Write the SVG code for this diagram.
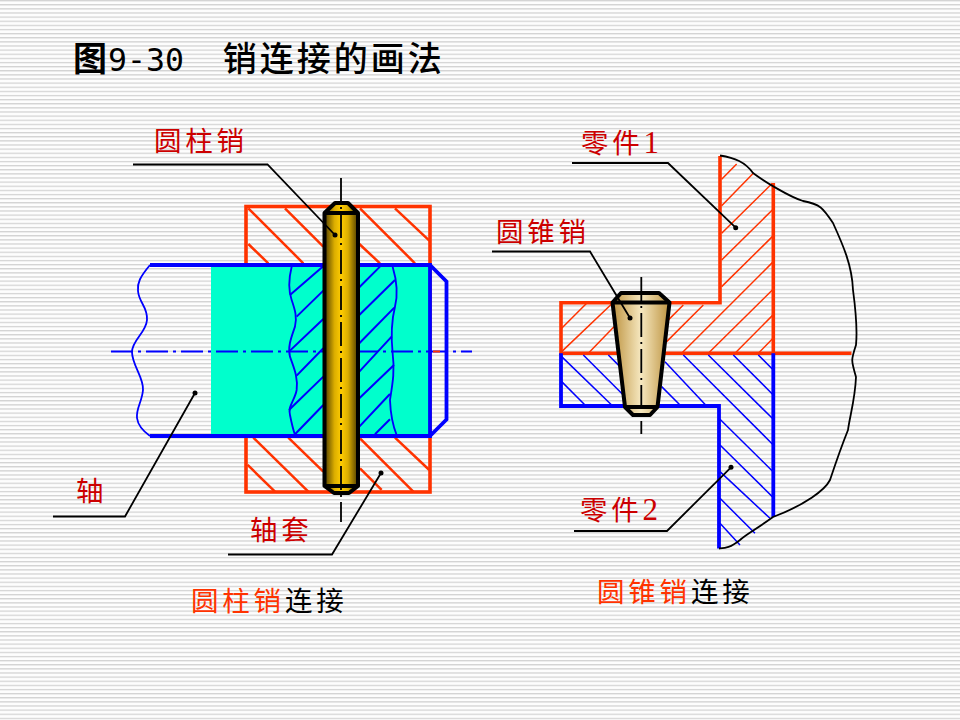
<svg xmlns="http://www.w3.org/2000/svg" width="960" height="720" viewBox="0 0 960 720">
<style>
.cjk{font-family:"Noto Sans CJK SC","Noto Sans",sans-serif}
.title{font-size:34px;font-weight:500;fill:#000;letter-spacing:3px}
.lbl{font-size:27.500px;fill:#cc0000;letter-spacing:3.800px}
.cap{font-size:27.500px;letter-spacing:3.800px}
.leader{fill:none;stroke:#000;stroke-width:1.800}
.red{fill:none;stroke:#ff3300;stroke-width:3.600}
.blue{fill:none;stroke:#0000ff;stroke-width:3.800}
.hr{fill:none;stroke:#ff3300}
.hb{fill:none;stroke:#0000ff}
.pin{stroke:#000;stroke-width:4;stroke-linejoin:round}
.cl{fill:none;stroke:#000;stroke-width:1.800;stroke-dasharray:24 5 2 5}
</style>
<defs>
<pattern id="bg" width="4.125" height="4.125" patternUnits="userSpaceOnUse">
<rect width="4.125" height="4.125" fill="#fdfdfd"/>
<rect y="0" width="4.125" height="1.250" fill="#d2d2d2"/>
</pattern>
<linearGradient id="gold" x1="0" x2="1" y1="0" y2="0">
<stop offset="0" stop-color="#4e3c00"/><stop offset=".3" stop-color="#dcae00"/><stop offset=".5" stop-color="#ffcc00"/><stop offset=".7" stop-color="#dcae00"/><stop offset="1" stop-color="#4e3c00"/>
</linearGradient>
<linearGradient id="tan" x1="0" x2="1" y1="0" y2="0">
<stop offset="0" stop-color="#bd9340"/><stop offset=".5" stop-color="#f6e8c0"/><stop offset="1" stop-color="#bd9340"/>
</linearGradient>
</defs>
<rect width="960" height="720" fill="url(#bg)"/>
<text id="title" class="cjk title" x="73" y="71"><tspan font-weight="700" letter-spacing="0">图</tspan><tspan font-family="DejaVu Sans Mono" font-size="31.500" font-weight="400" letter-spacing="0" dx="1">9-30</tspan><tspan dx="39">销连接的画法</tspan></text>

<g id="cylinder-connection">
<g id="sleeve">
<rect class="red" x="246" y="206.500" width="184" height="285.500"/>
<path class="hr" stroke-width="7.500" transform="translate(100 170) scale(.3333)" d="M445 115L610 280M555 115L670 230M780 115L945 280M885 115L988 212M445 222L505 280M778 222L840 280M460 803L625 965M565 803L670 905M780 805L940 965M885 803L988 900M443 885L525 965M780 895L845 960"/>
</g>
<g id="shaft">
<rect x="211" y="265" width="218" height="171" fill="#00ffcc"/>
<path fill="none" stroke="#0000ff" stroke-width="1.800" d="M150 265C140 277 137 283 138 291C139 303 148 307 147 320C146 333 132 340 132 352C132 365 144 378 143 390C142 402 136 408 137 418C138 426 143 431 150 436"/>
<path class="blue" d="M150 265H430V436H150M430 265L446.500 281.500V419.500L430 436"/>
<g transform="translate(100 170) scale(.3333)">
<path class="hb" stroke-width="5.500" d="M575 290C565 330 565 360 575 390C585 420 592 440 585 470C575 500 562 530 570 560C580 590 595 620 590 660C585 690 562 710 570 735C575 760 580 780 585 795M878 290C890 330 895 370 885 410C875 450 873 500 878 550C885 600 878 640 870 690C872 740 880 770 890 795"/>
<path class="hb" stroke-width="6" d="M570 375L668 290M590 440L670 362M570 542L670 447M590 617L670 535M567 720L670 620M585 793L670 705M778 352L840 290M778 435L885 330M778 520L883 413M778 605L875 500M778 685L882 585M778 770L870 672M825 793L870 748"/>
</g>
</g>
<path fill="none" stroke="#0000ff" stroke-width="2" stroke-dasharray="22 5 3 5" d="M111 351.500H472"/>
<path fill="none" stroke="#ff3300" stroke-width="2" d="M433 351.500H440"/>
<g id="cylinder-pin">
<path class="pin" fill="url(#gold)" d="M335 203H348L358 213V486L349 493H334L324.500 486V213Z"/>
<path class="pin" fill="none" d="M324.500 213H358M324.500 486H358"/>
</g>
<path class="cl" d="M341 178V522"/>
</g>

<g id="taper-connection">
<g id="part1">
<g transform="translate(540 140) scale(.3333)">
<path class="hr" stroke-width="4.500" d="M545 118L590 72M545 197L640 100M545 280L697 130M545 360L697 210M545 440L697 290M425 640L697 368M505 640L697 450M585 640L697 527M655 640L697 597M380 545L430 495M380 605L490 495M65 565L140 490M65 635L215 492M145 640L222 560"/>
</g>
<path class="red" d="M720 156V302.700H561V353.300H851.500M773.300 183V353.300"/>
</g>
<g id="part2">
<g transform="translate(540 140) scale(.3333)">
<path class="hb" stroke-width="4.500" d="M655 645L697 687M580 645L697 762M505 645L697 835M430 645L697 912M375 665L497 795M540 838L697 993M365 740L420 795M540 915L697 1070M540 995L690 1135M540 1075L645 1180M540 1150L600 1215M205 645L240 680M130 645L250 765M65 650L215 795M65 725L135 795"/>
</g>
<path class="blue" d="M561 353.300V406H719V548.500M773.300 353.300V517"/>
</g>
<path id="break-line" class="leader" d="M720 155.500C735 158 745 162 753 173C765 182 790 197 803 201C820 204 823 208 833 223C843 245 852 265 853 290C857 320 857 335 856 345C851 360 851 360 856 377C855 400 850 415 848 430C840 450 835 465 830 480C825 490 805 505 773 517C755 530 745 535 740 540C730 548 725 548 719 548.500"/>
<g id="taper-pin">
<path class="pin" fill="url(#tan)" d="M621 293H659L669.500 302.500L657.500 407L650 415H633L625 407L612.500 302.500Z"/>
<path class="pin" fill="none" d="M612.500 302.500H669.500M625 407H657.500"/>
</g>
<path class="cl" d="M641.300 277V434"/>
</g>

<g id="connectors">
<path class="leader" d="M133 164.500H267.500L335 235"/>
<path class="leader" d="M53 516.500H125L195 393"/>
<path class="leader" d="M228 554.500H332L381 473"/>
<path class="leader" d="M572 163H668L735.700 227.700"/>
<path class="leader" d="M492 251.500H590L630 318"/>
<path class="leader" d="M574 531H667L731 467.300"/>
<g fill="#000">
<circle cx="335" cy="235" r="2.500"/><circle cx="195" cy="393" r="2.500"/><circle cx="381" cy="473" r="2.500"/>
<circle cx="735.700" cy="227.700" r="2.500"/><circle cx="630" cy="318" r="2.500"/><circle cx="731" cy="467.300" r="2.500"/>
</g>
</g>

<g id="labels">
<text class="cjk lbl" x="154" y="151">圆柱销</text>
<text class="cjk lbl" x="76" y="501">轴</text>
<text class="cjk lbl" x="250" y="540">轴套</text>
<text class="cjk lbl" x="581" y="153">零件<tspan font-family="Liberation Serif" font-size="31">1</tspan></text>
<text class="cjk lbl" x="496" y="242">圆锥销</text>
<text class="cjk lbl" x="580" y="520">零件<tspan font-family="Liberation Serif" font-size="31">2</tspan></text>
<text class="cjk cap" x="191" y="611"><tspan fill="#ff3300">圆柱销</tspan><tspan fill="#000">连接</tspan></text>
<text class="cjk cap" x="597" y="602"><tspan fill="#ff3300">圆锥销</tspan><tspan fill="#000">连接</tspan></text>
</g>
</svg>
